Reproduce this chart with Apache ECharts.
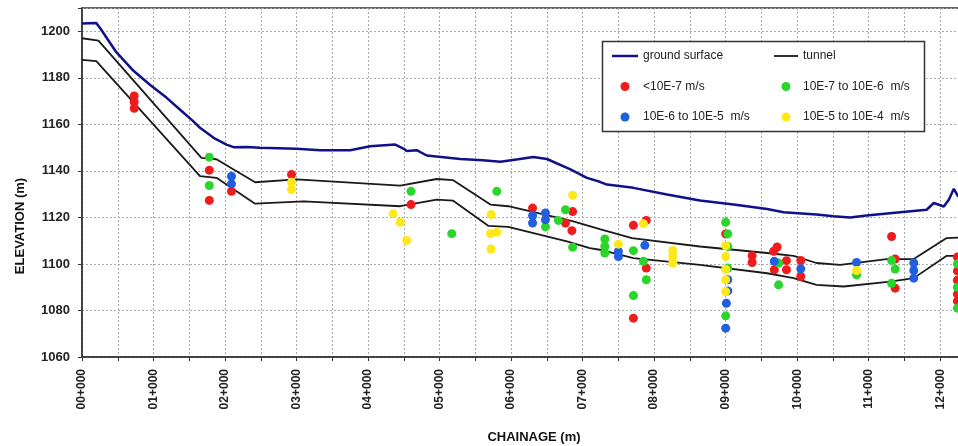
<!DOCTYPE html>
<html>
<head>
<meta charset="utf-8">
<script src="https://cdn.jsdelivr.net/npm/echarts@6/dist/echarts.min.js"></script>
<style>
  html, body { margin: 0; padding: 0; background: #fff; }
  #chart { width: 958px; height: 446px; }
</style>
</head>
<body>
<div id="chart"></div>
<script>
// tick labels for the chainage axis (one per km)
const chainageLabels = ['00+000', '01+000', '02+000', '03+000', '04+000', '05+000', '06+000',
    '07+000', '08+000', '09+000', '10+000', '11+000', '12+000'];

// [chainage m, elevation m]
const groundSurface = [
    [0, 1203.3], [200, 1203.5], [250, 1201.5], [480, 1191], [720, 1183], [950, 1177],
    [1180, 1171.5], [1420, 1165], [1550, 1161.5], [1650, 1158.5], [1840, 1154.2], [2020, 1151.3],
    [2120, 1150.2], [2300, 1150.3], [2490, 1149.9], [3000, 1149.5], [3330, 1148.9], [3750, 1148.9],
    [4030, 1150.6], [4380, 1151.3], [4500, 1149.5], [4540, 1148.5], [4680, 1148.9], [4820, 1146.6],
    [5290, 1145.1], [5600, 1144.6], [5850, 1143.9], [6100, 1145], [6310, 1146], [6500, 1145.1],
    [6830, 1140.6], [7060, 1137], [7240, 1135.3], [7340, 1134.1], [7710, 1132.7], [8180, 1129.8],
    [8640, 1127.3], [9110, 1125.5], [9580, 1123.6], [9810, 1122.2], [10270, 1121.2], [10510, 1120.5],
    [10740, 1120], [10970, 1120.8], [11440, 1122.2], [11810, 1123.3], [11910, 1126.2], [12050, 1124.7],
    [12120, 1127.6], [12190, 1132.3], [12250, 1129], [12300, 1130]
];

const tunnelTop = [
    [0, 1197], [230, 1196], [1670, 1145.6], [1880, 1145], [2420, 1135.1], [3000, 1136.3],
    [4450, 1133.7], [4960, 1136.5], [5190, 1136], [5710, 1125.5], [5960, 1124.8], [6870, 1118.3],
    [7240, 1115], [7690, 1111.1], [8640, 1107.5], [9110, 1106.1], [9580, 1104.7], [9950, 1103.5],
    [10270, 1100.4], [10600, 1099.6], [11250, 1102.1], [11630, 1102.1], [12090, 1111.1], [12300, 1111.4]
];

const tunnelBottom = [
    [0, 1187.7], [200, 1187.2], [1650, 1137.7], [1880, 1137], [2420, 1125.9], [3100, 1126.9],
    [4450, 1124.8], [4960, 1127.6], [5190, 1127.2], [5680, 1116.4], [5960, 1115.9], [6780, 1109.7],
    [7100, 1106.8], [7240, 1106.1], [7710, 1102.5], [8640, 1099.6], [9580, 1096], [9950, 1093.9],
    [10270, 1091], [10650, 1090.3], [11300, 1092.4], [11630, 1093.9], [12090, 1103.5], [12300, 1103.5]
];

// permeability tests
const kBelow7 = [
    [730, 1172.2], [730, 1169.6], [730, 1166.9], [1780, 1140.3], [1780, 1127.3], [2090, 1131.2],
    [2930, 1138.4], [4600, 1125.5], [6300, 1124], [6760, 1117.6], [6860, 1122.5], [6850, 1114.3],
    [7710, 1116.6], [7890, 1118.7], [7890, 1098.2], [7710, 1076.7], [9000, 1112.9],
    [9370, 1103.5], [9370, 1100.6], [9720, 1107.3], [9670, 1105.4], [9680, 1097.5], [9850, 1101.4],
    [9850, 1097.5], [10050, 1101.5], [10050, 1094.6], [11320, 1111.8], [11370, 1102.1], [11370, 1089.6],
    [12240, 1103], [12240, 1097], [12240, 1093], [12240, 1087], [12240, 1084]
];
const k7to6 = [
    [1780, 1145.9], [1780, 1133.7], [4600, 1131.2], [5170, 1113], [5800, 1131.2], [6480, 1115.9],
    [6660, 1118.7], [6760, 1123.3], [6860, 1107.2], [7310, 1110.7], [7310, 1107.5], [7310, 1104.7],
    [7710, 1105.7], [7850, 1101.1], [7890, 1093.2], [7710, 1086.4], [9000, 1117.9], [9030, 1112.9],
    [9030, 1107.5], [9030, 1098.2], [9000, 1077.7], [9740, 1100.4], [9740, 1091], [10830, 1095.3],
    [11320, 1101.5], [11370, 1097.8], [11320, 1091.7], [12240, 1100], [12240, 1090], [12240, 1081]
];
const k6to5 = [
    [2090, 1137.7], [2090, 1134.4], [6300, 1120.7], [6300, 1117.6], [6480, 1121.9], [6480, 1119],
    [7500, 1105.4], [7500, 1103.2], [7870, 1108], [9030, 1093.2], [9030, 1088.4], [9010, 1083.1],
    [9000, 1072.4], [9680, 1101.1], [10050, 1097.9], [10830, 1100.6], [11630, 1100.4], [11630, 1097.2],
    [11630, 1093.9]
];
const k5to4 = [
    [2930, 1135.1], [2930, 1132], [4350, 1121.6], [4450, 1117.9], [4540, 1110.1], [5720, 1121.2],
    [5710, 1113], [5800, 1113.6], [5720, 1106.4], [6860, 1129.5], [7500, 1108.5], [7850, 1117.3],
    [8260, 1105.8], [8260, 1103.2], [8260, 1100.4], [9000, 1107.8], [9000, 1103.2], [9000, 1097.7],
    [9000, 1093.2], [9000, 1088.1], [10830, 1097.2]
];

const font = '"Liberation Sans", Arial, sans-serif';

function dots(name, data, color) {
    return {
        name: name,
        type: 'scatter',
        data: data,
        symbolSize: 9,
        itemStyle: { color: color, opacity: 1 },
        z: 3
    };
}

let myChart = echarts.init(document.getElementById('chart'));
let option = {
    animation: false,
    grid: {
        left: 82,
        top: 8,
        width: 904,   // the plot runs past the right edge of the picture
        bottom: 89,
        outerBoundsMode: 'none',
        show: true,
        borderColor: '#333',
        borderWidth: 1.5,
        backgroundColor: '#fff'
    },
    legend: [
        {
            left: 612, top: 50, orient: 'vertical', itemGap: 18.5,
            itemWidth: 26, itemHeight: 9, selectedMode: false, padding: 0,
            textStyle: { fontFamily: font, fontSize: 12, color: '#222' },
            data: [
                { name: 'ground surface', icon: 'path://M0,0H26V2.5H0Z' },
                '<10E-7 m/s',
                '10E-6 to 10E-5  m/s'
            ]
        },
        {
            left: 774, top: 50, orient: 'vertical', itemGap: 18.5,
            itemWidth: 24, itemHeight: 9, selectedMode: false, padding: 0,
            textStyle: { fontFamily: font, fontSize: 12, color: '#222' },
            data: [
                { name: 'tunnel', icon: 'path://M0,0H24V1.8H0Z' },
                '10E-7 to 10E-6  m/s',
                '10E-5 to 10E-4  m/s'
            ]
        }
    ],
    graphic: [
        {
            type: 'rect', z: 3,
            shape: { x: 602.5, y: 41.5, width: 322, height: 90 },
            style: { fill: '#fff', stroke: '#333', lineWidth: 1.5 }
        },
        {
            type: 'text', x: 20, y: 226, rotation: Math.PI / 2,
            style: {
                text: 'ELEVATION (m)', font: 'bold 13px ' + font, fill: '#111',
                align: 'center', verticalAlign: 'middle'
            }
        }
    ],
    xAxis: {
        type: 'value',
        min: 0,
        max: 12640,
        interval: 500,
        name: 'CHAINAGE (m)',
        nameLocation: 'middle',
        nameGap: 74,
        nameTextStyle: { fontFamily: font, fontSize: 13, fontWeight: 'bold', color: '#111' },
        axisLine: { lineStyle: { color: '#333', width: 1.5 } },
        axisTick: { length: 4, lineStyle: { color: '#333' } },
        axisLabel: {
            rotate: 90,
            margin: 12,
            fontFamily: font,
            fontSize: 12,
            fontWeight: 'bold',
            color: '#222',
            formatter: function (v) {
                return (v % 1000 === 0 && chainageLabels[v / 1000]) || '';
            }
        },
        splitLine: { lineStyle: { color: '#aaa', type: [2, 2] } }
    },
    yAxis: {
        type: 'value',
        min: 1060,
        max: 1210,
        interval: 20,
        axisLine: { show: true, lineStyle: { color: '#333', width: 1.5 } },
        axisTick: { show: true, length: 4, lineStyle: { color: '#333' } },
        axisLabel: {
            margin: 12,
            fontFamily: font,
            fontSize: 13,
            fontWeight: 'bold',
            color: '#222',
            formatter: function (v) { return v <= 1200 ? v : ''; }
        },
        splitLine: { lineStyle: { color: '#aaa', type: [2, 2] } }
    },
    series: [
        {
            name: 'ground surface', type: 'line', data: groundSurface, symbol: 'none',
            lineStyle: { color: '#10108a', width: 2.5 }, itemStyle: { color: '#10108a' }, z: 2
        },
        {
            name: 'tunnel', type: 'line', data: tunnelTop, symbol: 'none',
            lineStyle: { color: '#1a1a1a', width: 1.8 }, itemStyle: { color: '#1a1a1a' }, z: 2
        },
        {
            name: 'tunnel', type: 'line', data: tunnelBottom, symbol: 'none',
            lineStyle: { color: '#1a1a1a', width: 1.8 }, itemStyle: { color: '#1a1a1a' }, z: 2
        },
        dots('<10E-7 m/s', kBelow7, '#ee1c1c'),
        dots('10E-7 to 10E-6  m/s', k7to6, '#2bd62b'),
        dots('10E-6 to 10E-5  m/s', k6to5, '#1f5fe0'),
        dots('10E-5 to 10E-4  m/s', k5to4, '#ffe81a')
    ]
};
myChart.setOption(option);
</script>
</body>
</html>
